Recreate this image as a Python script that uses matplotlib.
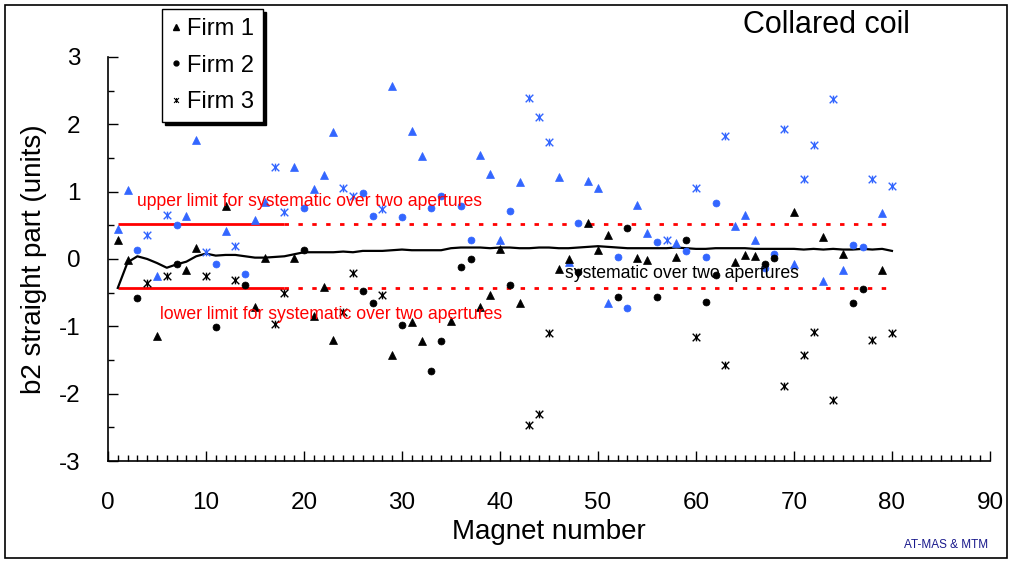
import numpy as np
import matplotlib
matplotlib.use("Agg")
import matplotlib.pyplot as plt
from matplotlib.path import Path
from matplotlib.lines import Line2D
from matplotlib.patches import Rectangle

plt.rcParams['font.family'] = ['Liberation Sans', 'DejaVu Sans']
plt.rcParams['axes.unicode_minus'] = False

# magnet numbers 1..80, firm of each magnet
magnets = np.arange(1, 81)
firm = [1, 1, 2, 3, 1, 3, 2, 1, 1, 3,
        2, 1, 3, 2, 1, 1, 3, 3, 1, 2,
        1, 1, 1, 3, 3, 2, 2, 3, 1, 2,
        1, 1, 2, 2, 1, 2, 2, 1, 1, 1,
        2, 1, 3, 3, 3, 1, 1, 2, 1, 1,
        1, 2, 2, 1, 1, 2, 3, 1, 2, 3,
        2, 2, 3, 1, 1, 1, 2, 2, 3, 1,
        3, 3, 1, 3, 1, 2, 2, 3, 1, 3]

# b2 in aperture 1 (black) and aperture 2 (blue)
ap1 = [0.28, -0.01, -0.58, -0.36, -1.14, -0.26, -0.08, -0.17, 0.16, -0.26,
       -1.01, 0.78, -0.31, -0.38, -0.72, 0.02, -0.96, -0.50, 0.01, 0.14,
       -0.85, -0.41, -1.20, -0.78, -0.21, -0.48, -0.66, -0.54, -1.42, -0.98,
       -0.93, -1.21, -1.67, -1.21, -0.92, -0.12, 0.00, -0.71, -0.54, 0.15,
       -0.39, -0.66, -2.46, -2.30, -1.10, -0.15, 0.00, -0.19, 0.53, 0.13,
       0.35, -0.56, 0.46, 0.02, -0.02, -0.56, np.nan, 0.03, 0.28, -1.16,
       -0.64, -0.24, -1.57, -0.05, 0.06, 0.04, -0.07, 0.02, -1.88, 0.70,
       -1.43, -1.08, 0.33, -2.09, 0.08, -0.65, -0.44, -1.20, -0.16, -1.10]
ap2 = [0.44, 1.02, 0.13, 0.35, -0.25, 0.65, 0.50, 0.64, 1.76, 0.10,
       -0.08, 0.42, 0.20, -0.22, 0.58, 0.85, 1.37, 0.70, 1.37, 0.75,
       1.04, 1.24, 1.88, 1.06, 0.94, 0.98, 0.64, 0.74, 2.57, 0.63,
       1.90, 1.53, 0.76, 0.94, np.nan, 0.78, 0.28, 1.55, 1.26, 0.28,
       0.71, 1.15, 2.39, 2.11, 1.74, 1.22, -0.05, 0.53, 1.16, 1.05,
       -0.66, 0.03, -0.73, 0.80, 0.38, 0.25, 0.28, 0.24, 0.12, 1.06,
       0.03, 0.83, 1.83, 0.49, 0.66, 0.28, -0.13, 0.08, 1.93, -0.08,
       1.19, 1.69, -0.32, 2.38, -0.16, 0.21, 0.18, 1.19, 0.68, 1.08]

# systematic over two apertures
syst = [-0.43, -0.05, 0.04, 0.00, -0.06, -0.13, -0.08, -0.04, 0.04, 0.08,
        0.05, 0.06, 0.06, 0.04, 0.02, 0.02, 0.03, 0.04, 0.07, 0.10,
        0.10, 0.10, 0.10, 0.11, 0.10, 0.12, 0.12, 0.12, 0.13, 0.14,
        0.13, 0.13, 0.13, 0.13, 0.16, 0.17, 0.17, 0.17, 0.16, 0.17,
        0.17, 0.16, 0.16, 0.17, 0.17, 0.16, 0.16, 0.17, 0.18, 0.19,
        0.18, 0.17, 0.16, 0.16, 0.16, 0.16, 0.16, 0.17, 0.16, 0.15,
        0.15, 0.16, 0.16, 0.16, 0.16, 0.15, 0.15, 0.15, 0.15, 0.15,
        0.14, 0.15, 0.14, 0.15, 0.14, 0.14, 0.15, 0.14, 0.15, 0.12]

upper_limit = 0.52
lower_limit = -0.43
limit_solid = [1, 18]
limit_dashed = [18, 80]

blue = '#3366ff'
red = '#ff0000'

star = Path([(-1, -1), (1, 1), (-1, 1), (1, -1), (0, -1), (0, 1)],
            [Path.MOVETO, Path.LINETO, Path.MOVETO, Path.LINETO, Path.MOVETO, Path.LINETO])
marks = {1: ('^', 6.0), 2: ('o', 5.0), 3: (star, 5.5)}

fig = plt.figure(figsize=(10.12, 5.63), dpi=100)
ax = fig.add_axes([0.1067, 0.181, 0.8715, 0.718])

# limits
for lim in (upper_limit, lower_limit):
    ax.plot(limit_solid, [lim, lim], color=red, lw=2, solid_capstyle='butt')
    ax.plot(limit_dashed, [lim, lim], color=red, lw=2, linestyle=(0, (1.6, 3.4)))

ax.plot(magnets, syst, color='black', lw=1.6)

firm = np.array(firm)
ap1 = np.array(ap1)
ap2 = np.array(ap2)
for f in (1, 2, 3):
    m, ms = marks[f]
    sel = firm == f
    for vals, col in ((ap2, blue), (ap1, 'black')):
        ax.plot(magnets[sel], vals[sel], linestyle='none', marker=m, markersize=ms,
                color=col, markeredgecolor=col, markeredgewidth=1.0 if f == 3 else 0.5)

ax.text(3.0, 0.86, 'upper limit for systematic over two apertures', color=red,
        fontsize=12.7, va='center', ha='left')
ax.text(5.3, -0.82, 'lower limit for systematic over two apertures', color=red,
        fontsize=12.7, va='center', ha='left')
ax.text(46.6, -0.21, 'systematic over two apertures', color='black',
        fontsize=12.7, va='center', ha='left')

ax.set_xlim(0, 90)
ax.set_ylim(-3, 3)
ax.set_xticks(np.arange(0, 91, 10))
ax.set_xticks(np.arange(0, 91, 1), minor=True)
ax.set_yticks(np.arange(-3, 4, 1))
ax.set_yticks(np.arange(-3, 3.01, 0.5), minor=True)
ax.tick_params(which='both', direction='in', labelsize=17.5, width=1)
ax.tick_params(which='major', length=7)
ax.tick_params(which='minor', length=4)
ax.tick_params(axis='x', pad=22)
ax.tick_params(axis='y', pad=20)
for s in ('top', 'right'):
    ax.spines[s].set_visible(False)
for s in ('left', 'bottom'):
    ax.spines[s].set_linewidth(1.2)

ax.set_xlabel('Magnet number', fontsize=20, labelpad=4)
ax.set_ylabel('b2 straight part (units)', fontsize=20, labelpad=8)

fig.text(0.8165, 1 - 25 / 563, 'Collared coil', fontsize=22, ha='center', va='center')
fig.text(0.935, 1 - 545 / 563, 'AT-MAS & MTM', fontsize=8.5, color='#1a1a8c',
         ha='center', va='center')

handles = [Line2D([], [], linestyle='none', marker='^', markersize=4, color='black'),
           Line2D([], [], linestyle='none', marker='o', markersize=3.5, color='black'),
           Line2D([], [], linestyle='none', marker=star, markersize=3.5, color='black',
                  markeredgewidth=0.8)]
leg = fig.legend(handles, ['Firm 1', 'Firm 2', 'Firm 3'], loc='upper left',
                 bbox_to_anchor=(162 / 1012, 1 - 9 / 563), fontsize=17,
                 frameon=True, fancybox=False, edgecolor='black', framealpha=1,
                 handlelength=0.4, handletextpad=0.25, borderpad=0.4,
                 labelspacing=0.6, borderaxespad=0,
                 shadow={'color': 'black', 'alpha': 1})
leg.get_frame().set_linewidth(1)

fig.patches.append(Rectangle((5 / 1012, 5 / 563), 1002 / 1012, 553 / 563,
                             transform=fig.transFigure, fill=False,
                             edgecolor='black', lw=1.2))

fig.savefig('out.png', dpi=100)
